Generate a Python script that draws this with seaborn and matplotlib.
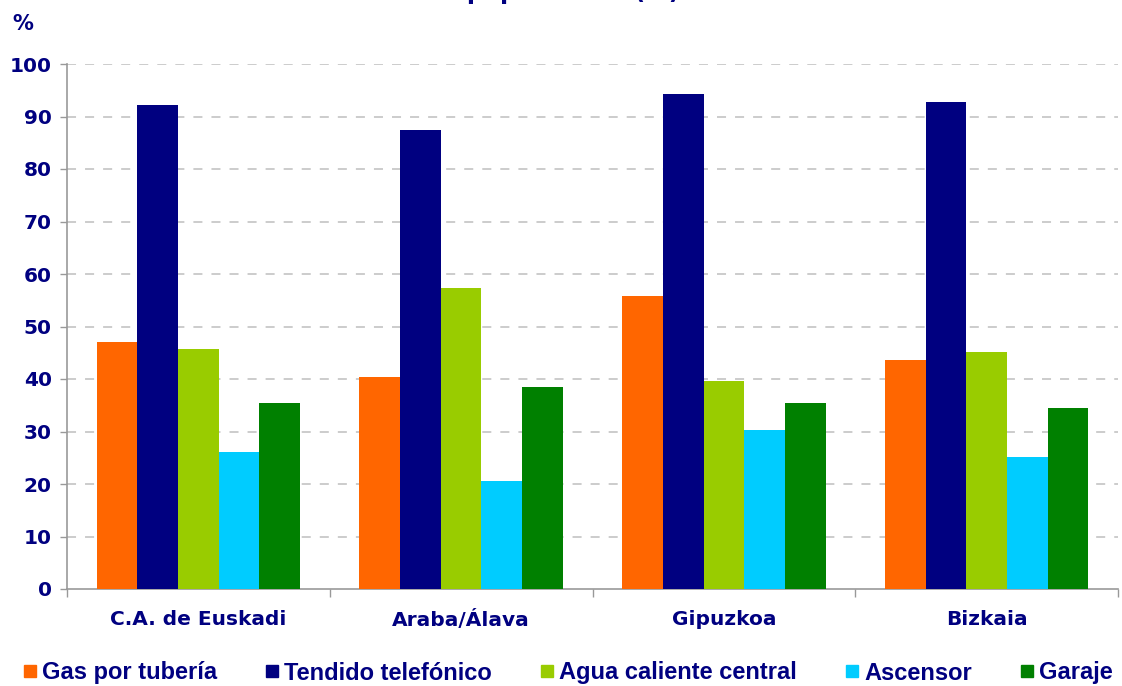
import pandas as pd
import matplotlib.pyplot as plt
import seaborn as sns
from matplotlib.lines import Line2D

territorios = ["C.A. de Euskadi", "Araba/Álava", "Gipuzkoa", "Bizkaia"]
equipamientos = ["Gas por tubería", "Tendido telefónico", "Agua caliente central", "Ascensor", "Garaje"]

gas = [47.0, 40.4, 55.8, 43.6]
telefono = [92.2, 87.4, 94.3, 92.8]
agua = [45.7, 57.3, 39.6, 45.1]
ascensor = [26.1, 20.6, 30.3, 25.1]
garaje = [35.4, 38.5, 35.4, 34.5]

colores = ["#FF6600", "#000080", "#99CC00", "#00CCFF", "#008000"]
navy = "#000080"

series = [gas, telefono, agua, ascensor, garaje]
rows = []
for eq, vals in zip(equipamientos, series):
    for terr, v in zip(territorios, vals):
        rows.append({"territorio": terr, "equipamiento": eq, "valor": v})
df = pd.DataFrame(rows)

sns.set_theme(style="white")
plt.rcParams['font.family'] = ['DejaVu Sans']

fig = plt.figure(figsize=(11.22, 6.86), dpi=100)
ax = fig.add_axes([67 / 1122, 1 - 589 / 686, (1118 - 67) / 1122, (589 - 64) / 686])

sns.barplot(data=df, x="territorio", y="valor", hue="equipamiento",
            order=territorios, hue_order=equipamientos, palette=colores,
            saturation=1, width=0.775, gap=0, ax=ax, legend=False, zorder=3,
            linewidth=0, edgecolor="none")

ax.set_ylim(0, 100)
ax.set_xlim(-0.5, 3.5)
ax.set_yticks(range(0, 101, 10))
ax.set_xlabel("")
ax.set_ylabel("")

# dashed grid
for y in range(10, 101, 10):
    ax.axhline(y, color="#c8c8c8", lw=1.3, ls=(0, (5, 5)), zorder=1)

for side in ["top", "right"]:
    ax.spines[side].set_visible(False)
for side in ["left", "bottom"]:
    ax.spines[side].set_color("#999999")
    ax.spines[side].set_linewidth(1.2)

ax.tick_params(axis="y", direction="out", length=5, color="#999999", width=1,
               labelsize=14.5, labelcolor=navy, pad=6, left=True)
ax.tick_params(axis="x", which="major", length=0, labelsize=14.5, labelcolor=navy, pad=15)
ax.set_xticks([-0.5, 0.5, 1.5, 2.5, 3.5], minor=True)
ax.tick_params(axis="x", which="minor", direction="out", length=6, color="#999999",
               width=1, bottom=True)
for lab in ax.get_xticklabels() + ax.get_yticklabels():
    lab.set_fontweight("bold")

fig.text(12 / 1122, 1 - 30 / 686, "%", fontsize=15, fontweight="bold", color=navy)

# title, mostly above the canvas (only the bottom is visible)
fig.text(0.5, 1 + 1 / 686, "Equipamiento (%)", ha="center", va="baseline",
         fontsize=17, fontweight="bold", color=navy)

handles = [Line2D([], [], marker="s", ls="", markersize=9, color=c) for c in colores]
fig.legend(handles, equipamientos, loc="center", bbox_to_anchor=(0.505, 1 - 673 / 686),
           ncol=5, frameon=False, handletextpad=0.1, columnspacing=1.95,
           handlelength=0.8, prop={"family": "Liberation Sans", "weight": "bold", "size": 17},
           labelcolor=navy)

fig.savefig("out.png", dpi=100)
